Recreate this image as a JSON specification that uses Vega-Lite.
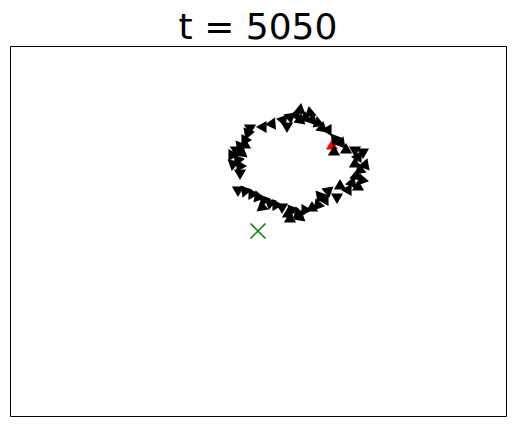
{
  "$schema": "https://vega.github.io/schema/vega-lite/v6.json",
  "width": 496,
  "height": 370,
  "autosize": {"type": "none"},
  "padding": {"left": 10, "top": 46, "right": 9, "bottom": 10},
  "background": "white",
  "title": {"text": "t = 5050", "fontSize": 36, "font": "DejaVu Sans", "fontWeight": "normal", "color": "black", "baseline": "alphabetic", "offset": 6, "dy": 35, "frame": "group", "anchor": "middle"},
  "config": {"view": {"stroke": "black", "strokeWidth": 1}},
  "datasets": {
    "boids": [
      {"x": 322, "y": 270, "a": 240, "kind": "focus"},
      {"x": 324, "y": 264, "a": 0, "kind": "boid"},
      {"x": 325, "y": 277, "a": 200, "kind": "boid"},
      {"x": 253, "y": 289, "a": 270, "kind": "boid"},
      {"x": 262, "y": 292, "a": 265, "kind": "boid"},
      {"x": 273, "y": 296, "a": 280, "kind": "boid"},
      {"x": 280, "y": 299, "a": 290, "kind": "boid"},
      {"x": 286, "y": 301, "a": 275, "kind": "boid"},
      {"x": 290, "y": 296, "a": 250, "kind": "boid"},
      {"x": 277, "y": 290, "a": 300, "kind": "boid"},
      {"x": 290, "y": 306, "a": 250, "kind": "boid"},
      {"x": 300, "y": 303, "a": 230, "kind": "boid"},
      {"x": 240, "y": 288, "a": 300, "kind": "boid"},
      {"x": 238, "y": 283, "a": 320, "kind": "boid"},
      {"x": 235, "y": 276, "a": 330, "kind": "boid"},
      {"x": 230, "y": 270, "a": 320, "kind": "boid"},
      {"x": 226, "y": 266, "a": 300, "kind": "boid"},
      {"x": 222, "y": 261, "a": 330, "kind": "boid"},
      {"x": 232, "y": 263, "a": 10, "kind": "boid"},
      {"x": 228, "y": 256, "a": 200, "kind": "boid"},
      {"x": 223, "y": 252, "a": 190, "kind": "boid"},
      {"x": 230, "y": 250, "a": 210, "kind": "boid"},
      {"x": 230, "y": 243, "a": 180, "kind": "boid"},
      {"x": 235, "y": 271, "a": 0, "kind": "boid"},
      {"x": 295, "y": 298, "a": 240, "kind": "boid"},
      {"x": 302, "y": 296, "a": 260, "kind": "boid"},
      {"x": 308, "y": 293, "a": 230, "kind": "boid"},
      {"x": 312, "y": 288, "a": 250, "kind": "boid"},
      {"x": 318, "y": 286, "a": 270, "kind": "boid"},
      {"x": 331, "y": 273, "a": 20, "kind": "boid"},
      {"x": 336, "y": 266, "a": 0, "kind": "boid"},
      {"x": 345, "y": 266, "a": 60, "kind": "boid"},
      {"x": 353, "y": 264, "a": 60, "kind": "boid"},
      {"x": 348, "y": 259, "a": 30, "kind": "boid"},
      {"x": 345, "y": 252, "a": 0, "kind": "boid"},
      {"x": 355, "y": 251, "a": 20, "kind": "boid"},
      {"x": 350, "y": 246, "a": 350, "kind": "boid"},
      {"x": 346, "y": 240, "a": 10, "kind": "boid"},
      {"x": 352, "y": 236, "a": 340, "kind": "boid"},
      {"x": 342, "y": 233, "a": 20, "kind": "boid"},
      {"x": 348, "y": 229, "a": 0, "kind": "boid"},
      {"x": 338, "y": 226, "a": 30, "kind": "boid"},
      {"x": 330, "y": 230, "a": 120, "kind": "boid"},
      {"x": 327, "y": 219, "a": 180, "kind": "boid"},
      {"x": 318, "y": 225, "a": 170, "kind": "boid"},
      {"x": 315, "y": 216, "a": 150, "kind": "boid"},
      {"x": 308, "y": 211, "a": 100, "kind": "boid"},
      {"x": 302, "y": 208, "a": 120, "kind": "boid"},
      {"x": 310, "y": 220, "a": 80, "kind": "boid"},
      {"x": 295, "y": 206, "a": 90, "kind": "boid"},
      {"x": 288, "y": 203, "a": 100, "kind": "boid"},
      {"x": 282, "y": 206, "a": 80, "kind": "boid"},
      {"x": 278, "y": 202, "a": 120, "kind": "boid"},
      {"x": 272, "y": 209, "a": 60, "kind": "boid"},
      {"x": 266, "y": 211, "a": 90, "kind": "boid"},
      {"x": 260, "y": 213, "a": 70, "kind": "boid"},
      {"x": 254, "y": 216, "a": 80, "kind": "boid"},
      {"x": 248, "y": 219, "a": 100, "kind": "boid"},
      {"x": 242, "y": 222, "a": 90, "kind": "boid"},
      {"x": 235, "y": 225, "a": 80, "kind": "boid"},
      {"x": 228, "y": 226, "a": 60, "kind": "boid"},
      {"x": 252, "y": 209, "a": 110, "kind": "boid"},
      {"x": 290, "y": 199, "a": 130, "kind": "boid"},
      {"x": 280, "y": 197, "a": 120, "kind": "boid"}
    ],
    "target": [{"x": 248, "y": 185}]
  },
  "layer": [
    {
      "data": {"name": "boids"},
      "mark": {"type": "point", "shape": "M0,-1L0.866,0.5L-0.866,0.5Z", "filled": true, "opacity": 1, "size": 200, "strokeWidth": 0},
      "encoding": {
        "x": {"field": "x", "type": "quantitative", "scale": {"domain": [0, 496], "nice": false, "zero": false}, "axis": null},
        "y": {"field": "y", "type": "quantitative", "scale": {"domain": [0, 370], "nice": false, "zero": false}, "axis": null},
        "angle": {"field": "a", "type": "quantitative", "scale": {"domain": [0, 360], "range": [0, 360]}},
        "color": {"field": "kind", "type": "nominal", "scale": {"domain": ["boid", "focus"], "range": ["black", "red"]}, "legend": null}
      }
    },
    {
      "data": {"name": "target"},
      "mark": {"type": "point", "shape": "M-1,-1L1,1M-1,1L1,-1", "filled": false, "stroke": "#008000", "strokeWidth": 1.5, "size": 225, "opacity": 1},
      "encoding": {
        "x": {"field": "x", "type": "quantitative"},
        "y": {"field": "y", "type": "quantitative"}
      }
    }
  ]
}
